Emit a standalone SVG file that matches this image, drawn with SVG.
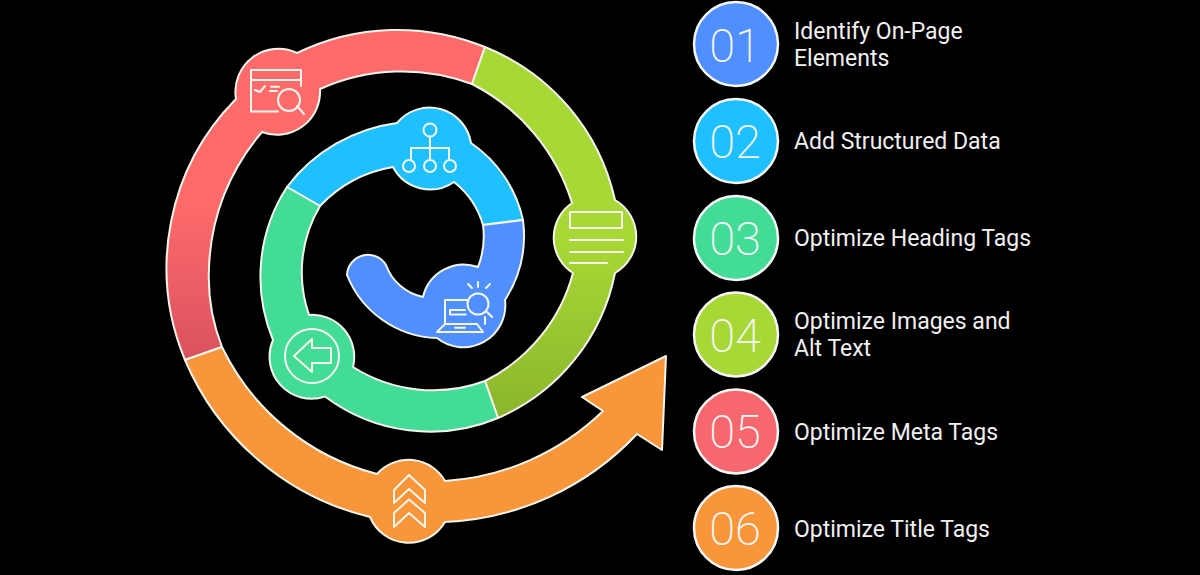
<svg xmlns="http://www.w3.org/2000/svg" width="1200" height="575" viewBox="0 0 1200 575">
<style>
.seg{stroke:#f4f4ec;stroke-width:2;stroke-linejoin:round}
.ic{fill:none;stroke:#f6f6ee;stroke-width:2;stroke-linecap:round;stroke-linejoin:round}
.lc{stroke:#f6f6f6;stroke-width:2.5}
.num{font-family:Roboto,"Liberation Sans",sans-serif;font-weight:200;font-size:47px;fill:#f6f6f6;text-anchor:middle}
.lab{font-family:Roboto,"Liberation Sans",sans-serif;font-weight:400;font-size:23px;fill:#f0f0f0}
</style>
<defs>
<linearGradient id="gRed" gradientUnits="userSpaceOnUse" x1="0" y1="200" x2="0" y2="360"><stop offset="0" stop-color="#ff6b6b"/><stop offset="1" stop-color="#d9525f"/></linearGradient>
<linearGradient id="gLime" gradientUnits="userSpaceOnUse" x1="0" y1="240" x2="0" y2="420"><stop offset="0" stop-color="#a8d835"/><stop offset="1" stop-color="#8ab52c"/></linearGradient>
</defs>
<rect width="1200" height="575" fill="#000"/>
<g id="connectors">
</g>
<g id="seg-red">
<path class="seg" fill="url(#gRed)" d="M185 360A240 240 0 0 1 236 99A43 43 0 0 1 297 53A231 231 0 0 1 485 47L472 84A200 200 0 0 0 320 89A43 43 0 0 1 262 132A219 219 0 0 0 209 268A190 190 0 0 0 222 347Z"/>
<path class="ic" d="M278 111.5H251V70H301V86M251 80H301M255 90L260 92L265 86M271 86.7H279M270 91H277M297 106L304 114"/><circle class="ic" cx="289" cy="100" r="11"/>
</g>
<g id="seg-lime">
<path class="seg" fill="url(#gLime)" d="M485 47A215 215 0 0 1 615 200A42 42 0 0 1 615 273A200 200 0 0 1 498 418L485 381A170 170 0 0 0 573 273A42 42 0 0 1 572 203A200 200 0 0 0 472 84Z"/>
<path class="ic" d="M570 212H622V228H570ZM570 240H623M570 252H623M570 263H607"/>
</g>
<g id="seg-cyan">
<path class="seg" fill="#1fc0ff" d="M287 187A165 165 0 0 1 397 123A42 42 0 0 1 471 143A126 126 0 0 1 523 220L483 225A85 85 0 0 0 454 182A42 42 0 0 1 393 167A130 130 0 0 0 320 206Z"/>
<circle class="ic" cx="430" cy="130" r="6.5"/><circle class="ic" cx="409" cy="166" r="6"/><circle class="ic" cx="430" cy="166" r="6"/><circle class="ic" cx="450" cy="166" r="6"/>
<path class="ic" d="M430 137V160M411 160V148H449V160"/>
</g>
<g id="seg-blue">
<path class="seg" fill="#4f8fff" d="M523 220A120 120 0 0 1 505 300A42 42 0 0 1 437 338A100 100 0 0 1 347 275A21 21 0 0 1 386 265A50 50 0 0 0 423 297A42 42 0 0 1 478 267A85 85 0 0 0 483 225Z"/>
<path class="ic" d="M445 324V300H467M485 317V324M445 324L437 332H483L477 324H445M455 327.7H465M465 310H450V314.5H466M487 312L492 317M478 282V287M468 284L472 288M490 284L486 288"/><circle class="ic" cx="478" cy="304" r="10.5"/>
</g>
<g id="seg-green">
<path class="seg" fill="#43dc96" d="M287 187A165 165 0 0 0 273 340A42 42 0 0 0 325 396.5A175 175 0 0 0 498 418L485 381A150 150 0 0 1 353 367A42 42 0 0 0 309 315A130 130 0 0 1 320 206Z"/>
<circle class="ic" cx="312" cy="356" r="27"/><path class="ic" d="M294 356L312 339V348H331V363H312V372Z"/>
</g>
<g id="seg-orange">
<path class="seg" fill="#f9963a" d="M185 360A270 270 0 0 0 370 517A42 42 0 0 0 445 522A280 280 0 0 0 637 434L662 450L666 356L582 397L603 411A250 250 0 0 1 445 481A42 42 0 0 0 377 474A238 238 0 0 1 222 347Z"/>
<path class="ic" d="M409 475L425 490V503L409 489L394 503V490ZM409 499.5L425 513V527L409 513L394 527V513Z"/>
</g>
<g id="item-1"><circle class="lc" cx="736" cy="44" r="42" fill="#4f8fff"/><text class="num" x="735" y="61.5">01</text><text class="lab" x="794" y="38.5">Identify On-Page</text><text class="lab" x="794" y="66">Elements</text></g>
<g id="item-2"><circle class="lc" cx="736" cy="141" r="42" fill="#1fc0ff"/><text class="num" x="735" y="158">02</text><text class="lab" x="794" y="149">Add Structured Data</text></g>
<g id="item-3"><circle class="lc" cx="736" cy="238" r="42" fill="#43dc96"/><text class="num" x="735" y="255">03</text><text class="lab" x="794" y="246">Optimize Heading Tags</text></g>
<g id="item-4"><circle class="lc" cx="736" cy="334.5" r="42" fill="#a8d835"/><text class="num" x="735" y="351.5">04</text><text class="lab" x="794" y="328.5">Optimize Images and</text><text class="lab" x="794" y="356">Alt Text</text></g>
<g id="item-5"><circle class="lc" cx="736" cy="431.5" r="42" fill="#f7686e"/><text class="num" x="735" y="448">05</text><text class="lab" x="794" y="439.5">Optimize Meta Tags</text></g>
<g id="item-6"><circle class="lc" cx="736" cy="528" r="42" fill="#f9963a"/><text class="num" x="735" y="545">06</text><text class="lab" x="794" y="536.5">Optimize Title Tags</text></g>
</svg>
